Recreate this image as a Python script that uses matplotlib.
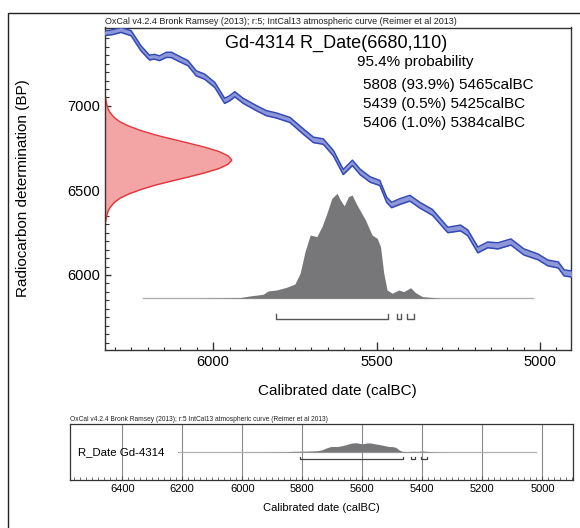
import numpy as np
import matplotlib
matplotlib.use('Agg')
import matplotlib.pyplot as plt
from matplotlib.patches import Rectangle
from matplotlib.ticker import MultipleLocator

plt.rcParams['font.family'] = ['Liberation Sans', 'DejaVu Sans']

# IntCal13 calibration curve (cal BC, BP, half width)
curve_bc = [6333, 6308, 6282, 6251, 6221, 6195, 6180, 6164, 6144, 6128, 6108, 6077, 6052, 6026,
            5995, 5965, 5949, 5934, 5908, 5867, 5837, 5806, 5765, 5724, 5693, 5663, 5632, 5602,
            5574, 5550, 5520, 5490, 5469, 5454, 5429, 5398, 5367, 5329, 5282, 5243, 5221, 5190,
            5160, 5129, 5089, 5049, 5006, 4976, 4944, 4926, 4904]
curve_bp = [7430, 7436, 7450, 7430, 7341, 7286, 7291, 7282, 7302, 7302, 7282, 7253, 7193, 7173,
            7124, 7030, 7046, 7069, 7030, 6986, 6957, 6943, 6917, 6848, 6799, 6789, 6720, 6609,
            6663, 6609, 6565, 6544, 6444, 6414, 6434, 6454, 6412, 6370, 6266, 6278, 6249, 6148,
            6178, 6172, 6195, 6136, 6107, 6071, 6059, 6012, 6006]
curve_err = [14, 14, 15, 15, 15, 14, 14, 14, 15, 16, 16, 15, 15, 15,
             15, 15, 15, 15, 15, 15, 15, 15, 15, 16, 16, 16, 16, 15,
             16, 16, 16, 15, 15, 16, 17, 17, 17, 17, 16, 17, 17, 17,
             17, 18, 18, 18, 17, 17, 18, 18, 18]

# radiocarbon date R_Date(6680,110), relative height vs BP
date_bp = [6290, 6340, 6380, 6405, 6430, 6455, 6480, 6505, 6530, 6555, 6580, 6605, 6630, 6655,
           6680, 6705, 6730, 6755, 6780, 6805, 6830, 6855, 6880, 6905, 6930, 6955, 6980, 7020, 7070]
date_w = [0.0, 0.01, 0.025, 0.045, 0.075, 0.12, 0.19, 0.28, 0.39, 0.52, 0.66, 0.79, 0.90, 0.97,
          1.0, 0.97, 0.90, 0.79, 0.66, 0.52, 0.39, 0.28, 0.19, 0.12, 0.075, 0.045, 0.025, 0.01, 0.0]

# calibrated probability distribution
dist_bc = [6214, 6041, 5980, 5919, 5888, 5847, 5832, 5806, 5775, 5750, 5734, 5719, 5703, 5683,
           5667, 5652, 5637, 5621, 5611, 5599, 5586, 5575, 5560, 5534, 5514, 5498, 5488, 5478,
           5468, 5452, 5432, 5417, 5396, 5381, 5360, 5304, 5022]
dist_p = [0, 0, 0.003, 0.006, 0.022, 0.038, 0.07, 0.079, 0.105, 0.136, 0.238, 0.444, 0.603, 0.587,
          0.683, 0.81, 0.952, 1.0, 0.937, 0.88, 0.968, 0.984, 0.889, 0.746, 0.603, 0.571, 0.492, 0.238,
          0.079, 0.048, 0.079, 0.063, 0.101, 0.054, 0.016, 0, 0]

# 95.4% ranges
range_from = [5808, 5439, 5406]
range_to = [5465, 5425, 5384]
range_pct = ['93.9%', '0.5%', '1.0%']

title = 'Gd-4314 R_Date(6680,110)'
credit = 'OxCal v4.2.4 Bronk Ramsey (2013); r:5; IntCal13 atmospheric curve (Reimer et al 2013)'
credit2 = 'OxCal v4.2.4 Bronk Ramsey (2013); r:5 IntCal13 atmospheric curve (Reimer et al 2013)'
label2 = 'R_Date Gd-4314'

W, H = 580, 528
fig = plt.figure(figsize=(W / 100, H / 100), dpi=100)

def fx(px):
    return px / W

def fy(py):
    return 1 - py / H

dark = '#333333'
blue_edge = '#3349b5'
blue_fill = '#8d97d9'
red_edge = '#e4343b'
red_fill = '#f3a5a6'
grey = '#77777a'

# outer frame
fig.add_artist(Rectangle((fx(8), -0.05), 1.1, fy(12.7) + 0.05, transform=fig.transFigure,
                         fill=False, ec='#222222', lw=1.0))

# ---------------- main plot ----------------
ax = fig.add_axes([fx(105), fy(350), fx(570.7 - 105), (350 - 27.5) / H])
x_left, x_right = 6331, 4906
y_bot, y_top = 5556, 7464
ax.set_xlim(x_left, x_right)
ax.set_ylim(y_bot, y_top)

bc = np.array(curve_bc)
bp = np.array(curve_bp)
err = np.array(curve_err)
ax.fill_between(bc, bp - err, bp + err, color=blue_fill, lw=0, zorder=3)
ax.plot(bc, bp + err, color=blue_edge, lw=1.1, zorder=4)
ax.plot(bc, bp - err, color=blue_edge, lw=1.1, zorder=4)

# radiocarbon date on the y axis
date_span = 388
red_x = x_left - np.array(date_w) * date_span
ax.fill_betweenx(date_bp, x_left, red_x, color=red_fill, lw=0, zorder=2)
ax.plot(red_x, date_bp, color=red_edge, lw=1.0, zorder=2)

# calibrated distribution
base = 5862
dist_h = 621
ax.fill_between(dist_bc, base, base + np.array(dist_p) * dist_h, color=grey, lw=0, zorder=2)
ax.plot([dist_bc[0], dist_bc[-1]], [base, base], color='#b0b0b0', lw=1.0, zorder=1)

# range brackets
br_y = 5740
for a, b in zip(range_from, range_to):
    ax.plot([a, a, b, b], [br_y + 28, br_y, br_y, br_y + 28], color='#555555', lw=1.0, zorder=2)

ax.xaxis.set_major_locator(MultipleLocator(500))
ax.xaxis.set_minor_locator(MultipleLocator(50))
ax.yaxis.set_major_locator(MultipleLocator(500))
ax.yaxis.set_minor_locator(MultipleLocator(50))
ax.tick_params(axis='x', which='major', direction='in', length=5.5, width=1, color=dark,
               labelsize=10.5, pad=3.5)
ax.tick_params(axis='x', which='minor', direction='in', length=2.5, width=0.8, color=dark)
ax.tick_params(axis='y', which='major', direction='in', length=4, width=1, color=dark,
               labelsize=10.5, pad=3.5)
ax.tick_params(axis='y', which='minor', direction='in', length=3, width=0.8, color=dark)
for s in ax.spines.values():
    s.set_color(dark)
    s.set_linewidth(1.0)

ax.text(0, 1.004, credit, transform=ax.transAxes, fontsize=6.5, color='#222222',
        ha='left', va='bottom')
fig.text(fx(225), fy(43.3), title, fontsize=13, ha='left', va='center')
fig.text(fx(356.7), fy(61.7), '95.4% probability', fontsize=11, ha='left', va='center')
for i, (a, b, p) in enumerate(zip(range_from, range_to, range_pct)):
    fig.text(fx(363.3), fy(85 + 19 * i), f'{a} ({p}) {b}calBC', fontsize=11,
             ha='left', va='center')

fig.text(fx(23.3), fy(188), 'Radiocarbon determination (BP)', rotation=90, fontsize=11,
         ha='center', va='center')
fig.text(fx(337.5), fy(391), 'Calibrated date (calBC)', fontsize=11, ha='center', va='center')

# ---------------- summary strip ----------------
ax2 = fig.add_axes([fx(70), fy(480), fx(572.7 - 70), 56 / H])
ax2.set_xlim(6574, 4899)
ax2.set_ylim(0, 1)
ax2.set_yticks([])
ax2.xaxis.set_major_locator(MultipleLocator(200))
ax2.xaxis.set_minor_locator(MultipleLocator(20))
ax2.grid(axis='x', which='major', color='#8a8a8a', lw=0.8)
ax2.tick_params(axis='x', which='major', direction='in', length=3, width=0.8, color='#555555',
                labelsize=8, pad=3)
ax2.tick_params(axis='x', which='minor', direction='in', length=2.5, width=0.6, color='#555555')
for s in ax2.spines.values():
    s.set_color(dark)
    s.set_linewidth(0.9)

base2 = 0.5
ax2.fill_between(dist_bc, base2, base2 + np.array(dist_p) * 0.166, color=grey, lw=0, zorder=3)
ax2.plot([dist_bc[0], dist_bc[-1]], [base2, base2], color='#b0b0b0', lw=0.9, zorder=2)
for a, b in zip(range_from, range_to):
    ax2.plot([a, a, b, b], [0.41, 0.37, 0.37, 0.41], color='#444444', lw=0.9, zorder=3)

ax2.text(0.0165, 0.5, label2, transform=ax2.transAxes, fontsize=8.2, ha='left', va='center')
ax2.text(0, 1.01, credit2, transform=ax2.transAxes, fontsize=4.8, color='#222222',
         ha='left', va='bottom')
fig.text(fx(321.7), fy(508.3), 'Calibrated date (calBC)', fontsize=8, ha='center', va='center')

fig.savefig('out.png', dpi=100)
